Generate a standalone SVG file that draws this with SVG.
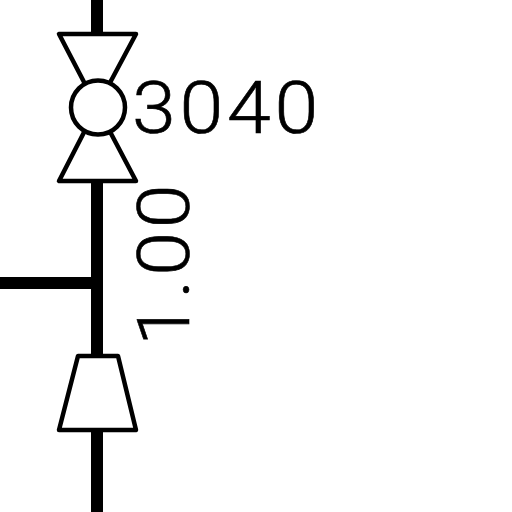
<svg xmlns="http://www.w3.org/2000/svg" width="512" height="512" viewBox="0 0 512 512">
<style>
.pipe{stroke:#000;stroke-width:12;fill:none}
.sym{stroke:#000;stroke-width:4.5;fill:#fff;stroke-linejoin:round}
.lbl{font-family:Roboto,"Liberation Sans",sans-serif;font-weight:300;font-size:73px;fill:#000;stroke:#000;stroke-width:.6;letter-spacing:3.5px}
</style>
<rect width="512" height="512" fill="#fff"/>
<g id="connectors">
<path class="pipe" d="M97 0V33M97 181V356M97 430V512M0 283H97"/>
</g>
<g id="valve">
<polygon class="sym" points="59,34 136,34 97,107"/>
<polygon class="sym" points="59,181 136,181 97,107"/>
<circle class="sym" cx="98" cy="107.5" r="27"/>
</g>
<g id="reducer">
<polygon class="sym" points="78,356 118,356 136,430 59,430"/>
</g>
<g id="label-3040">
<text class="lbl" transform="translate(132 133) scale(1.08 1)">3040</text>
</g>
<g id="label-1.00">
<text class="lbl" transform="translate(189 346) rotate(-90) scale(1.08 1)">1.00</text>
</g>
</svg>
